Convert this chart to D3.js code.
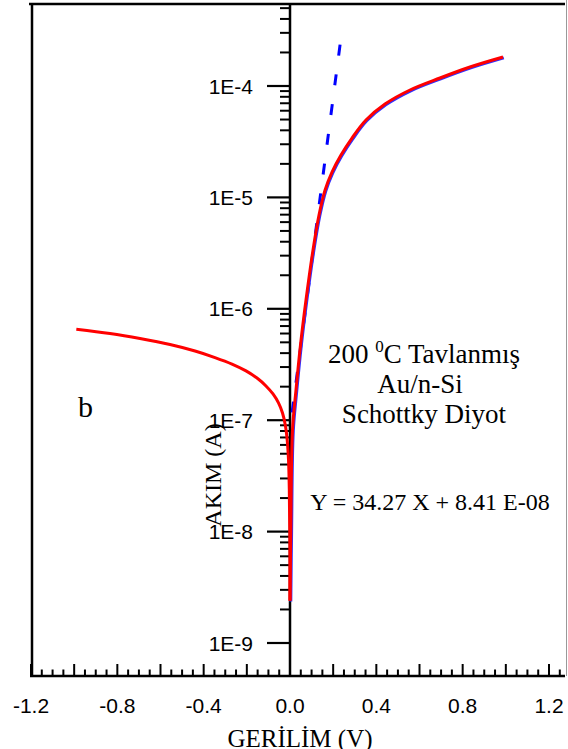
<!DOCTYPE html>
<html><head><meta charset="utf-8">
<script src="https://cdn.jsdelivr.net/npm/d3@7"></script>
<style>body{margin:0;background:#fff}svg{display:block}</style>
</head><body>
<script>
// ---- data ----
const forwardV = [0.000, 0.0037, 0.0116, 0.0278, 0.0486, 0.0741, 0.1066, 0.1344, 0.1622, 0.1946, 0.2363, 0.2873, 0.3521, 0.4402, 0.556, 0.695, 0.834, 0.987];
const forwardI = [2.4e-9, 1.01e-8, 8.17e-8, 1.87e-7, 4.73e-7, 1.20e-6, 3.37e-6, 6.95e-6, 1.16e-5, 1.69e-5, 2.40e-5, 3.41e-5, 4.95e-5, 6.89e-5, 9.21e-5, 1.18e-4, 1.48e-4, 1.82e-4];
const reverseV = [-0.990, -0.834, -0.695, -0.556, -0.440, -0.3475, -0.2687, -0.2039, -0.1529, -0.1112, -0.0788, -0.0533, -0.0347, -0.0218, -0.0130, -0.0069, -0.0032, -0.0009, 0.000];
const reverseI = [6.55e-7, 6.00e-7, 5.41e-7, 4.78e-7, 4.18e-7, 3.65e-7, 3.19e-7, 2.77e-7, 2.39e-7, 2.03e-7, 1.72e-7, 1.43e-7, 1.16e-7, 9.06e-8, 6.64e-8, 4.39e-8, 2.36e-8, 8.41e-9, 2.4e-9];
const fitV = [0.232, 0.000];
const fitI = [2.35e-4, 8.41e-8];
const xTickLabels = ["-1.2", "-0.8", "-0.4", "0.0", "0.4", "0.8", "1.2"];
const yTickLabels = ["1E-9", "1E-8", "1E-7", "1E-6", "1E-5", "1E-4"];
const yMajor = [1e-9, 1e-8, 1e-7, 1e-6, 1e-5, 1e-4];

// ---- layout ----
const W = 568, H = 749;
const svg = d3.select("body").append("svg").attr("width", W).attr("height", H);
const x = d3.scaleLinear().domain([-1.2, 1.2]).range([31, 549]);
const y = d3.scaleLog().domain([1e-9, 1e-4]).range([643, 86]);
const yTop = 4, yBot = 676, xLeft = 32, xRight = 565;
const sans = "'Liberation Sans', Arial, sans-serif";
const serif = "'Liberation Serif', 'Times New Roman', serif";

// frame
svg.append("line").attr("x1", 29).attr("x2", xRight).attr("y1", yTop).attr("y2", yTop).attr("stroke", "#000").attr("stroke-width", 2.5);
svg.append("line").attr("x1", xLeft).attr("x2", xLeft).attr("y1", yTop - 1).attr("y2", yBot).attr("stroke", "#000").attr("stroke-width", 2.5);
svg.append("line").attr("x1", 566.5).attr("x2", 566.5).attr("y1", 0).attr("y2", yBot).attr("stroke", "#999").attr("stroke-width", 1);

// x axis (ticks upward)
const xTicks = d3.range(-24, 26).map(i => i * 0.05);
const gx = svg.append("g");
gx.selectAll("line.t").data(xTicks).join("line")
  .attr("x1", d => x(d)).attr("x2", d => x(d))
  .attr("y1", yBot).attr("y2", d => yBot - (Math.abs(Math.round(d * 100) % 20) === 0 ? 12 : 6.5))
  .attr("stroke", "#000").attr("stroke-width", 2);
gx.append("line").attr("x1", 30).attr("x2", xRight).attr("y1", yBot).attr("y2", yBot).attr("stroke", "#000").attr("stroke-width", 2.5);
gx.selectAll("text").data(xTickLabels).join("text")
  .attr("x", d => x(+d)).attr("y", 713)
  .attr("text-anchor", "middle").attr("font-family", sans).attr("font-size", 21).text(d => d);
svg.append("text").attr("x", 300).attr("y", 747).attr("text-anchor", "middle")
  .attr("font-family", serif).attr("font-size", 25).text("GERİLİM (V)");

// y axis at x=0, ticks to the left
const x0 = x(0);
const minor = [];
for (let e = -9; e <= -4; e++) for (let m = 2; m <= 9; m++) {
  const v = m * Math.pow(10, e);
  if (y(v) >= yTop + 2) minor.push(v);
}
const gy = svg.append("g");
gy.selectAll("line.mi").data(minor).join("line")
  .attr("x1", x0 - 10).attr("x2", x0).attr("y1", d => y(d)).attr("y2", d => y(d))
  .attr("stroke", "#000").attr("stroke-width", 2);
gy.selectAll("line.ma").data(yMajor).join("line")
  .attr("x1", x0 - 23).attr("x2", x0).attr("y1", d => y(d)).attr("y2", d => y(d))
  .attr("stroke", "#000").attr("stroke-width", 2.2);
gy.append("line").attr("x1", x0).attr("x2", x0).attr("y1", yTop).attr("y2", yBot).attr("stroke", "#000").attr("stroke-width", 2.5);
gy.selectAll("text").data(yTickLabels).join("text")
  .attr("x", x0 - 37).attr("y", (d, i) => y(yMajor[i]) + 7.5)
  .attr("text-anchor", "end").attr("font-family", sans).attr("font-size", 21).text(d => d);
svg.append("text").attr("transform", `translate(221,475) rotate(-90)`).attr("text-anchor", "middle")
  .attr("font-family", serif).attr("font-size", 24).text("AKIM (A)");

// curves
const line = d3.line().x(d => x(d[0])).y(d => y(d[1])).curve(d3.curveCatmullRom.alpha(0.5));
const fwd = forwardV.map((v, i) => [v, forwardI[i]]);
const rev = reverseV.map((v, i) => [v, reverseI[i]]);
const fit = fitV.map((v, i) => [v, fitI[i]]);
svg.append("path").attr("d", d3.line().x(d => x(d[0])).y(d => y(d[1]))(fit))
  .attr("fill", "none").attr("stroke", "#0000ff").attr("stroke-width", 3).attr("stroke-dasharray", "11,19");
svg.append("path").attr("d", line(fwd)).attr("transform", "translate(0.8,0.8)")
  .attr("fill", "none").attr("stroke", "#3030ff").attr("stroke-width", 3);
[fwd, rev].forEach(s => svg.append("path").attr("d", line(s))
  .attr("fill", "none").attr("stroke", "#ff0000").attr("stroke-width", 3).attr("stroke-linejoin", "round"));

// annotations
const t1 = svg.append("text").attr("x", 424).attr("y", 363).attr("text-anchor", "middle")
  .attr("font-family", serif).attr("font-size", 27);
t1.append("tspan").text("200 ");
t1.append("tspan").attr("font-size", 17).attr("dy", -11).text("0");
t1.append("tspan").attr("dy", 11).text("C Tavlanmış");
svg.append("text").attr("x", 420).attr("y", 393).attr("text-anchor", "middle")
  .attr("font-family", serif).attr("font-size", 27).text("Au/n-Si");
svg.append("text").attr("x", 424).attr("y", 423).attr("text-anchor", "middle")
  .attr("font-family", serif).attr("font-size", 27).text("Schottky Diyot");
svg.append("text").attr("x", 430).attr("y", 510).attr("text-anchor", "middle")
  .attr("font-family", serif).attr("font-size", 24).text("Y = 34.27 X + 8.41 E-08");
svg.append("text").attr("x", 78).attr("y", 417)
  .attr("font-family", serif).attr("font-size", 30).text("b");
</script>
</body></html>
